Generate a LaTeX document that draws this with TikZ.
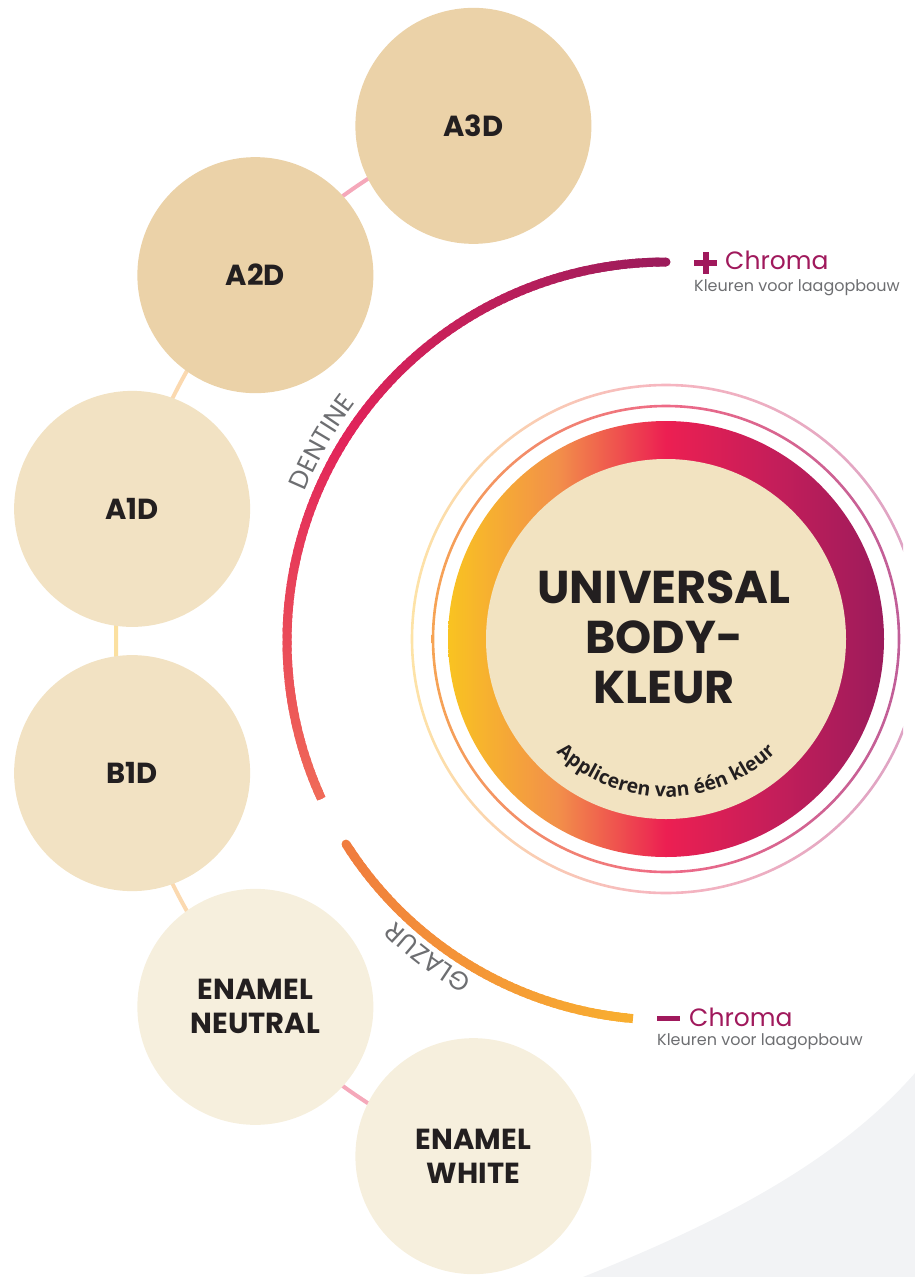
\documentclass[tikz,border=0pt]{standalone}
\usepackage{fontspec}
\setmainfont{Poppins}
\newfontfamily\opensans{Open Sans}
\usetikzlibrary{backgrounds,decorations.text}
\definecolor{tanA}{HTML}{EBD2A8}
\definecolor{tanB}{HTML}{F2E2C3}
\definecolor{tanC}{HTML}{F6EFDD}
\definecolor{innerc}{HTML}{F2E3C1}
\definecolor{darktxt}{HTML}{231F20}
\definecolor{magenta}{HTML}{A0195C}
\definecolor{labgray}{HTML}{6D6E71}
\definecolor{greyshape}{HTML}{F2F3F5}
\definecolor{connpink}{HTML}{F5A8BA}
\definecolor{connpeach}{HTML}{FBD9B0}
\definecolor{connyel}{HTML}{FBE0A0}
\definecolor{dA}{HTML}{9C1B5B}
\definecolor{dB}{HTML}{E2245A}
\definecolor{dC}{HTML}{F06A58}
\definecolor{gA}{HTML}{F07C3E}
\definecolor{gB}{HTML}{F8AE30}
\definecolor{sA}{HTML}{F9C321}
\definecolor{sB}{HTML}{F2904A}
\definecolor{sC}{HTML}{EC1F52}
\definecolor{sD}{HTML}{C41E5A}
\definecolor{sE}{HTML}{9C1B5B}
\pgfdeclarehorizontalshading{ringgrad}{100bp}{color(0bp)=(sA); color(25bp)=(sA); color(37.5bp)=(sB); color(50bp)=(sC); color(62.5bp)=(sD); color(75bp)=(sE); color(100bp)=(sE)}
\definecolor{rA}{HTML}{F6A455}
\definecolor{rB}{HTML}{EE6A87}
\definecolor{rC}{HTML}{C05E98}
\definecolor{oA}{HTML}{FDE3A7}
\definecolor{oB}{HTML}{F6B5C0}
\definecolor{oC}{HTML}{DDA2C4}
\pgfdeclarehorizontalshading{ringone}{100bp}{color(0bp)=(rA); color(25bp)=(rA); color(50bp)=(rB); color(75bp)=(rC); color(100bp)=(rC)}
\pgfdeclarehorizontalshading{ringtwo}{100bp}{color(0bp)=(oA); color(25bp)=(oA); color(50bp)=(oB); color(75bp)=(oC); color(100bp)=(oC)}
\tikzset{
  shade circ/.style={circle, minimum size=236pt, inner sep=0pt, text=darktxt, align=center,
     font=\fontsize{29}{36}\selectfont\bfseries},
  conn/.style={line width=4pt},
  bigtitle/.style={font=\fontsize{46}{50}\selectfont\bfseries, text=darktxt, inner sep=0pt, anchor=base},
  chroma/.style={font=\fontsize{25}{30}\selectfont, text=magenta, inner sep=0pt, anchor=base west},
  sublab/.style={font=\fontsize{16}{18}\selectfont, text=labgray, inner sep=0pt, anchor=base west},
}
\begin{document}
\begin{tikzpicture}[x=1pt,y=1pt]
\useasboundingbox (0,0) rectangle (915,-1277);
\coordinate (C) at (666,-641);
% circles on ring
\node[shade circ, fill=tanA] (a3d) at ([shift={(110.5:550)}]C) {A3D};
\node[shade circ, fill=tanA] (a2d) at ([shift={(138.3:550)}]C) {A2D};
\node[shade circ, fill=tanB] (a1d) at ([shift={(166.1:550)}]C) {A1D};
\node[shade circ, fill=tanB] (b1d) at ([shift={(193.9:550)}]C) {B1D};
\node[shade circ, fill=tanC] (en) at ([shift={(221.7:550)}]C) {ENAMEL\\[-2pt]NEUTRAL};
\node[shade circ, fill=tanC] (ew) at ([shift={(249.5:550)}]C) {ENAMEL\\[-2pt]WHITE};
\begin{scope}[on background layer]
  \fill[greyshape] (583,-1277) .. controls (700,-1230) and (830,-1170) .. (915,-1073) -- (915,-1277) -- cycle;
  \draw[conn, connpink] (a3d.center) arc[start angle=110.5, end angle=138.3, radius=550];
  \draw[conn, connpeach] (a2d.center) arc[start angle=138.3, end angle=166.1, radius=550];
  \draw[conn, connyel] (a1d.center) arc[start angle=166.1, end angle=193.9, radius=550];
  \draw[conn, connpeach] (b1d.center) arc[start angle=193.9, end angle=221.7, radius=550];
  \draw[conn, connpink] (en.center) arc[start angle=221.7, end angle=249.5, radius=550];
\end{scope}
% thin rings
\coordinate (R) at (666,-639);
\begin{scope}
  \clip (0,0) rectangle (903,-1277);
  \shade[shading=ringtwo, even odd rule] (R) circle[radius=255.3] (R) circle[radius=252.7];
\end{scope}
\shade[shading=ringone, even odd rule] (R) circle[radius=234.3] (R) circle[radius=231.7];
% gradient disk and inner
\shade[shading=ringgrad] (R) circle[radius=218];
\fill[innerc] (R) circle[radius=180];
% central title
\node[bigtitle] (t1) at (664,-603) {UNIVERSAL};
\node[bigtitle] (t2) at (664,-653) {BODY-};
\node[bigtitle] (t3) at (664,-703) {KLEUR};
\path[decorate, decoration={text along path, text align=center,
   text={|\opensans\fontsize{19.5}{22}\selectfont\bfseries\color{darktxt}|Appliceren van één kleur}}]
   ([shift={(208:158)}]R) arc[start angle=208, end angle=332, radius=158];
% dentine arc (gradient)
\foreach \i in {0,...,113} {
  \pgfmathsetmacro\a{90+\i}
  \ifnum\i<57
    \pgfmathsetmacro\p{100*\i/57}
    \draw[line width=9pt, dB!\p!dA] ([shift={(\a:379)}]C) arc[start angle=\a, end angle=\a+1.6, radius=379];
  \else
    \pgfmathsetmacro\p{100*(\i-57)/57}
    \draw[line width=9pt, dC!\p!dB] ([shift={(\a:379)}]C) arc[start angle=\a, end angle=\a+1.6, radius=379];
  \fi
}
\fill[dA] ([shift={(90:379)}]C) circle[radius=4.5];
\fill[dC] ([shift={(204:379)}]C) circle[radius=4.5];
% glazur arc
\foreach \i in {0,...,51} {
  \pgfmathsetmacro\a{212.4+\i}
  \pgfmathsetmacro\p{100*\i/51}
  \draw[line width=9pt, gB!\p!gA] ([shift={(\a:379)}]C) arc[start angle=\a, end angle=\a+1.6, radius=379];
}
\fill[gA] ([shift={(212.4:379)}]C) circle[radius=4.5];
\fill[gB] ([shift={(264:379)}]C) circle[radius=4.5];
% arc labels
\path[decorate, decoration={text along path, text align=center,
   text={|\fontsize{26}{28}\selectfont\color{labgray}|DENTINE}}]
   ([shift={(164:391)}]C) arc[start angle=164, end angle=136, radius=391];
\path[decorate, decoration={text along path, text align=center,
   text={|\fontsize{26}{28}\selectfont\color{labgray}|GLAZUR}}]
   ([shift={(247:389)}]C) arc[start angle=247, end angle=219, radius=389];
% chroma labels
\fill[magenta] (694,-260) rectangle (717,-266);
\fill[magenta] (702.5,-252) rectangle (708.5,-274);
\node[chroma] (cp) at (725,-269) {Chroma};
\node[sublab] (kp) at (694,-291) {Kleuren voor laagopbouw};
\fill[magenta] (657,-1015.5) rectangle (680,-1020.5);
\node[chroma] (cm) at (689,-1026) {Chroma};
\node[sublab] (km) at (657,-1045) {Kleuren voor laagopbouw};
\end{tikzpicture}
\end{document}
